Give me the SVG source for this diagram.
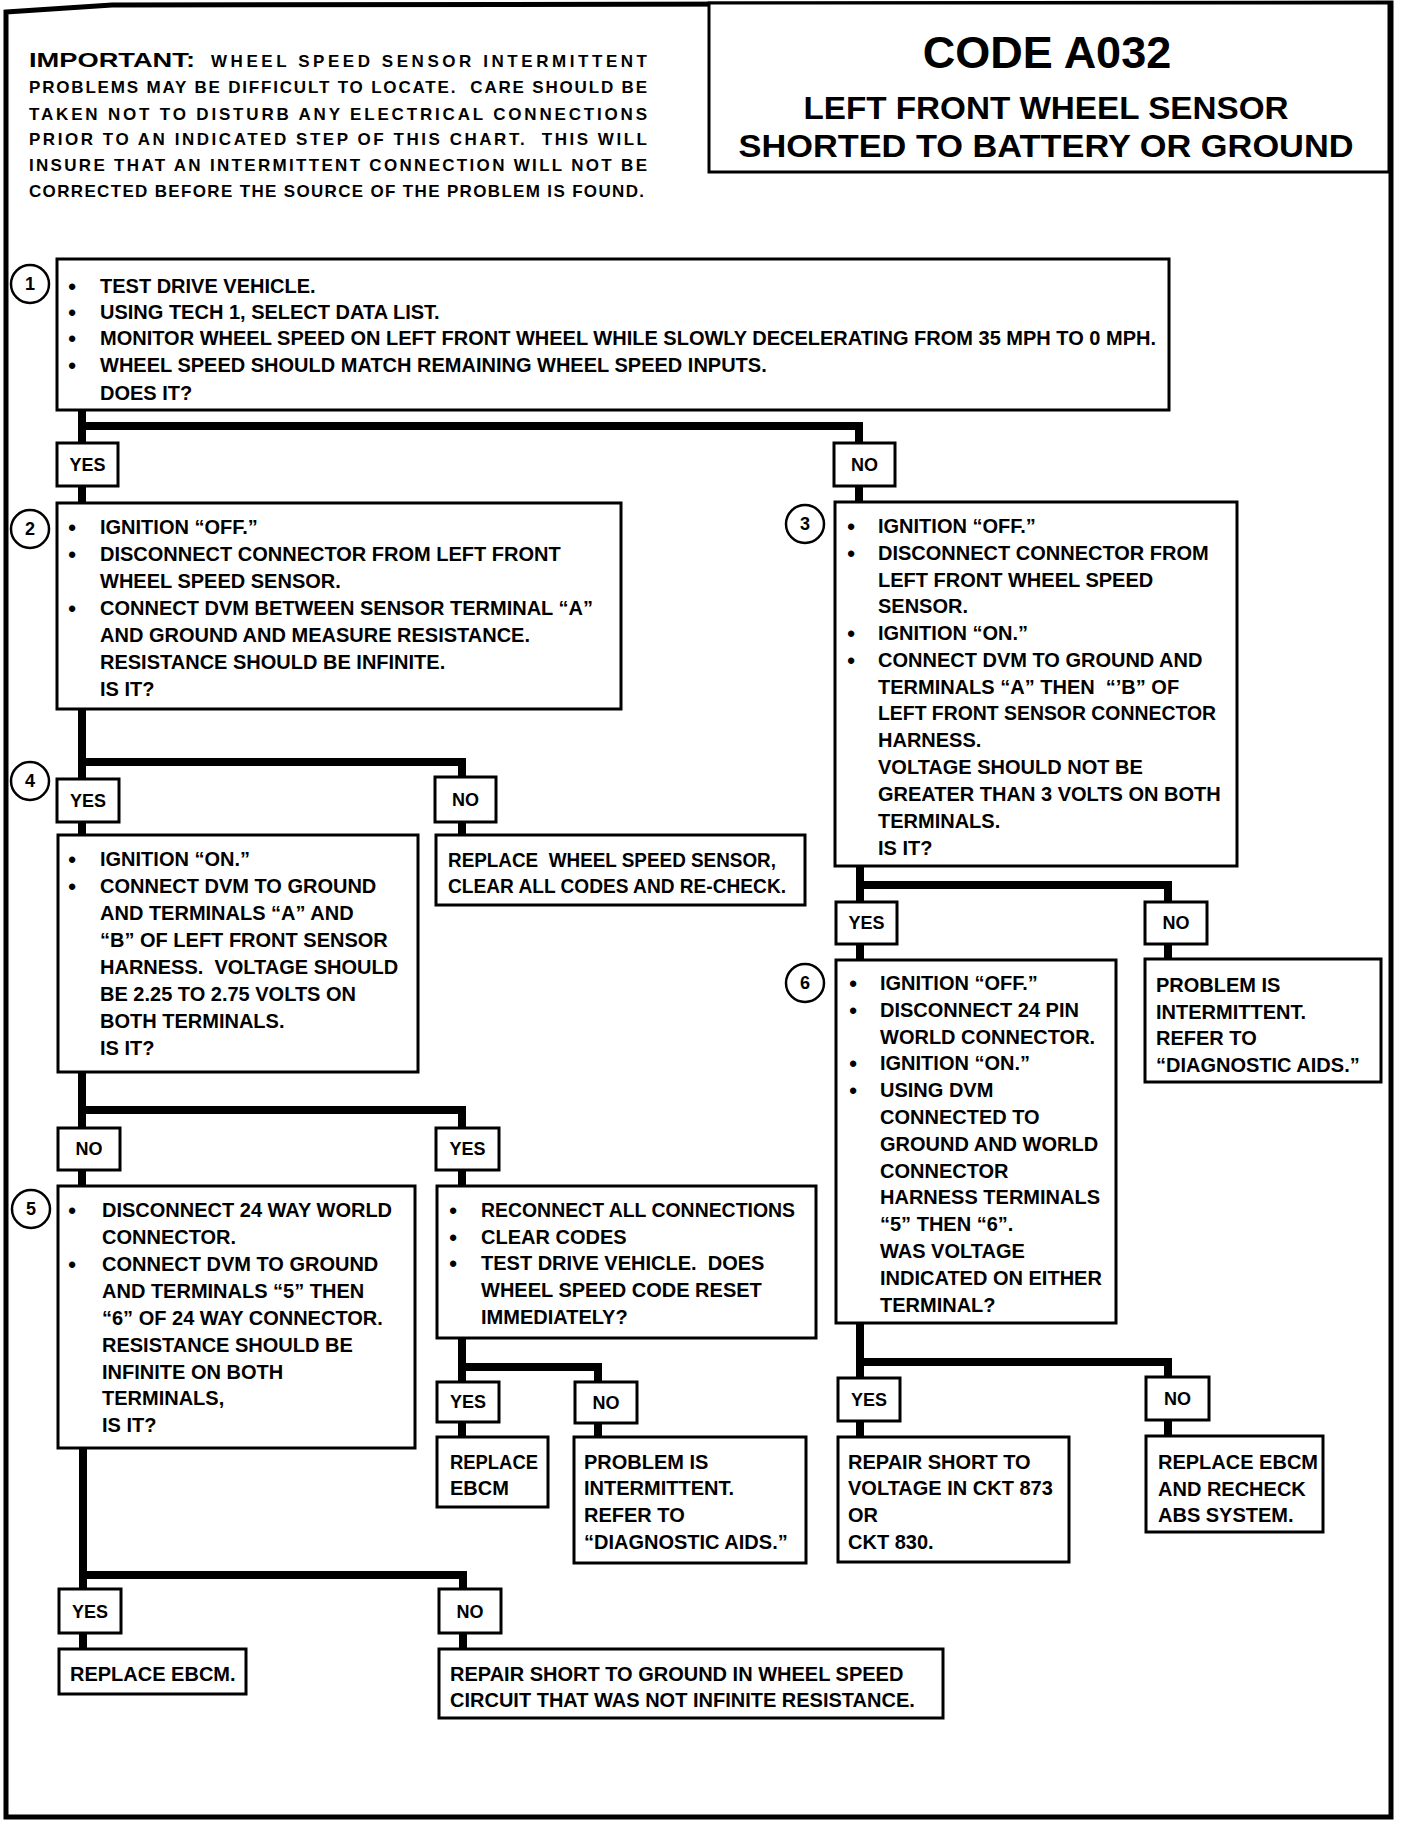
<svg xmlns="http://www.w3.org/2000/svg" width="1408" height="1822" viewBox="0 0 1408 1822">
<style>
text{font-family:"Liberation Sans",Arial,sans-serif;font-weight:700;fill:#000;white-space:pre}
.t{font-size:20px}
.s{font-size:17px}
.b{font-size:22px;text-anchor:middle}
.l{font-size:18px;text-anchor:middle}
.n{font-size:18px;text-anchor:middle}
.box{fill:#fff;stroke:#000;stroke-width:3}
.lab{fill:#fff;stroke:#000;stroke-width:3}
.num{fill:#fff;stroke:#000;stroke-width:2.5}
.c{fill:none;stroke:#000;stroke-width:8;stroke-linejoin:miter;stroke-linecap:butt}
</style>
<rect width="1408" height="1822" fill="#fff"/>
<path d="M6,12 L112,5 L1391,3 L1391,1817 L6,1817 Z" fill="none" stroke="#000" stroke-width="5"/>

<g id="important">
<text x="29" y="67" style="font-size:20px" textLength="166" lengthAdjust="spacingAndGlyphs">IMPORTANT:</text>
<text class="s" x="211" y="67" textLength="436" lengthAdjust="spacing">WHEEL SPEED SENSOR INTERMITTENT</text>
<text class="s" x="29" y="93" textLength="618" lengthAdjust="spacing">PROBLEMS MAY BE DIFFICULT TO LOCATE.  CARE SHOULD BE</text>
<text class="s" x="29" y="120" textLength="618" lengthAdjust="spacing">TAKEN NOT TO DISTURB ANY ELECTRICAL CONNECTIONS</text>
<text class="s" x="29" y="145" textLength="618" lengthAdjust="spacing">PRIOR TO AN INDICATED STEP OF THIS CHART.  THIS WILL</text>
<text class="s" x="29" y="171" textLength="618" lengthAdjust="spacing">INSURE THAT AN INTERMITTENT CONNECTION WILL NOT BE</text>
<text class="s" x="29" y="197" textLength="615" lengthAdjust="spacing">CORRECTED BEFORE THE SOURCE OF THE PROBLEM IS FOUND.</text>
</g>

<g id="title">
<rect x="709" y="3" width="680" height="169" fill="#fff" stroke="#000" stroke-width="3"/>
<text x="1047" y="68" style="font-size:45px;text-anchor:middle">CODE A032</text>
<text x="1046" y="119" style="font-size:31px;text-anchor:middle" textLength="485" lengthAdjust="spacingAndGlyphs">LEFT FRONT WHEEL SENSOR</text>
<text x="1046" y="157" style="font-size:31px;text-anchor:middle" textLength="615" lengthAdjust="spacingAndGlyphs">SHORTED TO BATTERY OR GROUND</text>
</g>

<g id="connectors">
<path class="c" d="M82,410 V503 M82,426 H859 V502"/>
<path class="c" d="M82,709 V835 M82,762 H462 V835"/>
<path class="c" d="M82,1072 V1186 M82,1110 H462 V1186"/>
<path class="c" d="M462,1338 V1437 M462,1367 H598 V1437"/>
<path class="c" d="M83,1448 V1649 M83,1575 H463 V1649"/>
<path class="c" d="M860,866 V960 M860,885 H1168 V959"/>
<path class="c" d="M860,1323 V1437 M860,1362 H1168 V1436"/>
</g>

<g id="step1">
<rect class="box" x="57" y="259" width="1112" height="151"/>
<circle class="num" cx="30" cy="284" r="19"/><text class="n" x="30" y="290">1</text>
<text class="b" x="72" y="294">•</text><text class="t" x="100" y="293">TEST DRIVE VEHICLE.</text>
<text class="b" x="72" y="320">•</text><text class="t" x="100" y="319">USING TECH 1, SELECT DATA LIST.</text>
<text class="b" x="72" y="346">•</text><text class="t" x="100" y="345">MONITOR WHEEL SPEED ON LEFT FRONT WHEEL WHILE SLOWLY DECELERATING FROM 35 MPH TO 0 MPH.</text>
<text class="b" x="72" y="373">•</text><text class="t" x="100" y="372">WHEEL SPEED SHOULD MATCH REMAINING WHEEL SPEED INPUTS.</text>
<text class="t" x="100" y="400">DOES IT?</text>
</g>

<g id="yes1"><rect class="lab" x="57" y="443" width="61" height="43"/><text class="l" x="87.5" y="471">YES</text></g>
<g id="no1"><rect class="lab" x="834" y="443" width="61" height="43"/><text class="l" x="864.5" y="471">NO</text></g>

<g id="step2">
<rect class="box" x="57" y="503" width="564" height="206"/>
<circle class="num" cx="30" cy="529" r="19"/><text class="n" x="30" y="535">2</text>
<text class="b" x="72" y="535">•</text><text class="t" x="100" y="534">IGNITION “OFF.”</text>
<text class="b" x="72" y="562">•</text><text class="t" x="100" y="561">DISCONNECT CONNECTOR FROM LEFT FRONT</text>
<text class="t" x="100" y="588">WHEEL SPEED SENSOR.</text>
<text class="b" x="72" y="616">•</text><text class="t" x="100" y="615">CONNECT DVM BETWEEN SENSOR TERMINAL “A”</text>
<text class="t" x="100" y="642">AND GROUND AND MEASURE RESISTANCE.</text>
<text class="t" x="100" y="669">RESISTANCE SHOULD BE INFINITE.</text>
<text class="t" x="100" y="696">IS IT?</text>
</g>

<g id="step3">
<rect class="box" x="835" y="502" width="402" height="364"/>
<circle class="num" cx="805" cy="524" r="19"/><text class="n" x="805" y="530">3</text>
<text class="b" x="851" y="534">•</text><text class="t" x="878" y="533">IGNITION “OFF.”</text>
<text class="b" x="851" y="561">•</text><text class="t" x="878" y="560">DISCONNECT CONNECTOR FROM</text>
<text class="t" x="878" y="587">LEFT FRONT WHEEL SPEED</text>
<text class="t" x="878" y="613">SENSOR.</text>
<text class="b" x="851" y="641">•</text><text class="t" x="878" y="640">IGNITION “ON.”</text>
<text class="b" x="851" y="668">•</text><text class="t" x="878" y="667">CONNECT DVM TO GROUND AND</text>
<text class="t" x="878" y="694">TERMINALS “A” THEN  “’B” OF</text>
<text class="t" x="878" y="720" textLength="338" lengthAdjust="spacingAndGlyphs">LEFT FRONT SENSOR CONNECTOR</text>
<text class="t" x="878" y="747">HARNESS.</text>
<text class="t" x="878" y="774">VOLTAGE SHOULD NOT BE</text>
<text class="t" x="878" y="801">GREATER THAN 3 VOLTS ON BOTH</text>
<text class="t" x="878" y="828">TERMINALS.</text>
<text class="t" x="878" y="855">IS IT?</text>
</g>

<g id="yes2"><rect class="lab" x="57" y="779" width="62" height="43"/><text class="l" x="88" y="807">YES</text></g>
<g id="no2"><rect class="lab" x="435" y="777" width="61" height="45"/><text class="l" x="465.5" y="806">NO</text></g>
<g id="circle4"><circle class="num" cx="30" cy="781" r="19"/><text class="n" x="30" y="787">4</text></g>

<g id="step4">
<rect class="box" x="58" y="835" width="360" height="237"/>
<text class="b" x="72" y="867">•</text><text class="t" x="100" y="866">IGNITION “ON.”</text>
<text class="b" x="72" y="894">•</text><text class="t" x="100" y="893">CONNECT DVM TO GROUND</text>
<text class="t" x="100" y="920">AND TERMINALS “A” AND</text>
<text class="t" x="100" y="947">“B” OF LEFT FRONT SENSOR</text>
<text class="t" x="100" y="974">HARNESS.  VOLTAGE SHOULD</text>
<text class="t" x="100" y="1001">BE 2.25 TO 2.75 VOLTS ON</text>
<text class="t" x="100" y="1028">BOTH TERMINALS.</text>
<text class="t" x="100" y="1055">IS IT?</text>
</g>

<g id="replaceSensor">
<rect class="box" x="436" y="835" width="369" height="70"/>
<text class="t" x="448" y="867" textLength="328" lengthAdjust="spacingAndGlyphs">REPLACE  WHEEL SPEED SENSOR,</text>
<text class="t" x="448" y="893" textLength="338" lengthAdjust="spacingAndGlyphs">CLEAR ALL CODES AND RE-CHECK.</text>
</g>

<g id="no4"><rect class="lab" x="58" y="1128" width="62" height="42"/><text class="l" x="89" y="1155">NO</text></g>
<g id="yes4"><rect class="lab" x="436" y="1128" width="63" height="42"/><text class="l" x="467.5" y="1155">YES</text></g>

<g id="step5">
<rect class="box" x="58" y="1186" width="357" height="262"/>
<circle class="num" cx="31" cy="1209" r="19"/><text class="n" x="31" y="1215">5</text>
<text class="b" x="72" y="1218">•</text><text class="t" x="102" y="1217">DISCONNECT 24 WAY WORLD</text>
<text class="t" x="102" y="1244">CONNECTOR.</text>
<text class="b" x="72" y="1272">•</text><text class="t" x="102" y="1271">CONNECT DVM TO GROUND</text>
<text class="t" x="102" y="1298">AND TERMINALS “5” THEN</text>
<text class="t" x="102" y="1325">“6” OF 24 WAY CONNECTOR.</text>
<text class="t" x="102" y="1352">RESISTANCE SHOULD BE</text>
<text class="t" x="102" y="1379">INFINITE ON BOTH</text>
<text class="t" x="102" y="1405">TERMINALS,</text>
<text class="t" x="102" y="1432">IS IT?</text>
</g>

<g id="reconnect">
<rect class="box" x="437" y="1186" width="379" height="152"/>
<text class="b" x="453" y="1218">•</text><text class="t" x="481" y="1217" textLength="314" lengthAdjust="spacingAndGlyphs">RECONNECT ALL CONNECTIONS</text>
<text class="b" x="453" y="1245">•</text><text class="t" x="481" y="1244">CLEAR CODES</text>
<text class="b" x="453" y="1271">•</text><text class="t" x="481" y="1270">TEST DRIVE VEHICLE.  DOES</text>
<text class="t" x="481" y="1297">WHEEL SPEED CODE RESET</text>
<text class="t" x="481" y="1324">IMMEDIATELY?</text>
</g>

<g id="yesR"><rect class="lab" x="437" y="1382" width="62" height="40"/><text class="l" x="468" y="1408">YES</text></g>
<g id="noR"><rect class="lab" x="575" y="1382" width="62" height="41"/><text class="l" x="606" y="1409">NO</text></g>

<g id="replaceEbcm1">
<rect class="box" x="437" y="1437" width="111" height="70"/>
<text class="t" x="450" y="1469" textLength="88" lengthAdjust="spacingAndGlyphs">REPLACE</text>
<text class="t" x="450" y="1495">EBCM</text>
</g>

<g id="problemLeft">
<rect class="box" x="574" y="1437" width="232" height="126"/>
<text class="t" x="584" y="1469">PROBLEM IS</text>
<text class="t" x="584" y="1495">INTERMITTENT.</text>
<text class="t" x="584" y="1522">REFER TO</text>
<text class="t" x="584" y="1549">“DIAGNOSTIC AIDS.”</text>
</g>

<g id="yes5"><rect class="lab" x="59" y="1589" width="62" height="44"/><text class="l" x="90" y="1618">YES</text></g>
<g id="no5"><rect class="lab" x="439" y="1589" width="62" height="44"/><text class="l" x="470" y="1618">NO</text></g>

<g id="replaceEbcm2">
<rect class="box" x="59" y="1649" width="187" height="45"/>
<text class="t" x="70" y="1681">REPLACE EBCM.</text>
</g>

<g id="repairGround">
<rect class="box" x="439" y="1649" width="504" height="69"/>
<text class="t" x="450" y="1681">REPAIR SHORT TO GROUND IN WHEEL SPEED</text>
<text class="t" x="450" y="1707">CIRCUIT THAT WAS NOT INFINITE RESISTANCE.</text>
</g>

<g id="yes3"><rect class="lab" x="836" y="902" width="61" height="42"/><text class="l" x="866.5" y="929">YES</text></g>
<g id="no3"><rect class="lab" x="1145" y="902" width="62" height="42"/><text class="l" x="1176" y="929">NO</text></g>

<g id="step6">
<rect class="box" x="836" y="960" width="280" height="363"/>
<circle class="num" cx="805" cy="983" r="19"/><text class="n" x="805" y="989">6</text>
<text class="b" x="853" y="991">•</text><text class="t" x="880" y="990">IGNITION “OFF.”</text>
<text class="b" x="853" y="1018">•</text><text class="t" x="880" y="1017">DISCONNECT 24 PIN</text>
<text class="t" x="880" y="1044">WORLD CONNECTOR.</text>
<text class="b" x="853" y="1071">•</text><text class="t" x="880" y="1070">IGNITION “ON.”</text>
<text class="b" x="853" y="1098">•</text><text class="t" x="880" y="1097">USING DVM</text>
<text class="t" x="880" y="1124">CONNECTED TO</text>
<text class="t" x="880" y="1151">GROUND AND WORLD</text>
<text class="t" x="880" y="1178">CONNECTOR</text>
<text class="t" x="880" y="1204">HARNESS TERMINALS</text>
<text class="t" x="880" y="1231">“5” THEN “6”.</text>
<text class="t" x="880" y="1258">WAS VOLTAGE</text>
<text class="t" x="880" y="1285">INDICATED ON EITHER</text>
<text class="t" x="880" y="1312">TERMINAL?</text>
</g>

<g id="problemRight">
<rect class="box" x="1145" y="959" width="236" height="123"/>
<text class="t" x="1156" y="992">PROBLEM IS</text>
<text class="t" x="1156" y="1019">INTERMITTENT.</text>
<text class="t" x="1156" y="1045">REFER TO</text>
<text class="t" x="1156" y="1072">“DIAGNOSTIC AIDS.”</text>
</g>

<g id="yes6"><rect class="lab" x="838" y="1378" width="62" height="43"/><text class="l" x="869" y="1406">YES</text></g>
<g id="no6"><rect class="lab" x="1146" y="1377" width="63" height="43"/><text class="l" x="1177.5" y="1405">NO</text></g>

<g id="repairVoltage">
<rect class="box" x="838" y="1437" width="231" height="125"/>
<text class="t" x="848" y="1469">REPAIR SHORT TO</text>
<text class="t" x="848" y="1495">VOLTAGE IN CKT 873</text>
<text class="t" x="848" y="1522">OR</text>
<text class="t" x="848" y="1549">CKT 830.</text>
</g>

<g id="replaceEbcm3">
<rect class="box" x="1146" y="1436" width="177" height="96"/>
<text class="t" x="1158" y="1469">REPLACE EBCM</text>
<text class="t" x="1158" y="1496">AND RECHECK</text>
<text class="t" x="1158" y="1522">ABS SYSTEM.</text>
</g>
</svg>
